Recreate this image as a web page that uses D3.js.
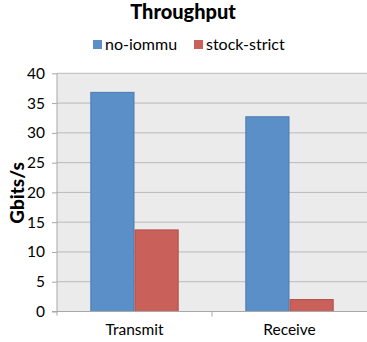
<!DOCTYPE html>
<html>
<head>
<meta charset="utf-8">
<script src="https://cdn.jsdelivr.net/npm/d3@7"></script>
<style>
  html, body { margin: 0; padding: 0; background: #fff; }
  svg { display: block; font-family: Lato, "Open Sans", sans-serif; }
</style>
</head>
<body>
<svg id="chart" width="367" height="342"></svg>
<script>
// Throughput per direction, in Gbits/s
const categories = ["Transmit", "Receive"];
const seriesNames = ["no-iommu", "stock-strict"];
const noIommu = [36.8, 32.7];
const stockStrict = [13.7, 2.0];
const yTicks = [0, 5, 10, 15, 20, 25, 30, 35, 40];

const colors = ["#5b8fc7", "#c9605a"];
const strokes = ["#4a7bb0", "#b04e49"];
const values = [noIommu, stockStrict];

const svg = d3.select("#chart");
const plot = { left: 57, right: 367, top: 73.3, bottom: 311.5 };

const x0 = d3.scaleBand().domain(categories)
  .range([plot.left, plot.right]).paddingInner(0.43).paddingOuter(0.215);
const x1 = d3.scaleBand().domain(seriesNames).range([0, x0.bandwidth()]);
const y = d3.scaleLinear().domain([0, 40]).range([plot.bottom, plot.top]);

// plot background
svg.append("rect")
  .attr("x", plot.left).attr("y", plot.top)
  .attr("width", plot.right - plot.left).attr("height", plot.bottom - plot.top)
  .attr("fill", "#ebebeb");

// horizontal gridlines
svg.append("g").selectAll("line").data(yTicks.filter(d => d > 0)).join("line")
  .attr("x1", plot.left).attr("x2", plot.right)
  .attr("y1", d => y(d)).attr("y2", d => y(d))
  .attr("stroke", "#b9b9b9").attr("stroke-width", 1);

// bars
const groups = svg.append("g").selectAll("g").data(categories).join("g")
  .attr("transform", d => `translate(${x0(d)},0)`);
groups.selectAll("rect")
  .data((c, i) => seriesNames.map((s, j) => ({ s, j, v: values[j][i] })))
  .join("rect")
  .attr("x", d => x1(d.s) + 0.5)
  .attr("width", x1.bandwidth() - 1)
  .attr("y", d => y(d.v))
  .attr("height", d => y(0) - y(d.v))
  .attr("fill", d => colors[d.j])
  .attr("stroke", d => strokes[d.j]).attr("stroke-width", 1);

// y axis
const yAxis = svg.append("g").attr("transform", `translate(${plot.left},0)`)
  .call(d3.axisLeft(y).tickValues(yTicks).tickSize(5).tickPadding(7));
yAxis.select(".domain").attr("stroke", "#a8a8a8").attr("d", `M0,${plot.top}V${plot.bottom + 4}`);
yAxis.selectAll(".tick line").attr("stroke", "#a8a8a8");
yAxis.selectAll("text").attr("font-size", 15.5).attr("fill", "#000")
  .attr("font-family", "Lato, sans-serif");

// x axis
const xAxis = svg.append("g").attr("transform", `translate(0,${plot.bottom})`)
  .call(d3.axisBottom(x0).tickSize(0).tickPadding(12));
xAxis.select(".domain").attr("stroke", "#a8a8a8").attr("d", `M${plot.left - 5},0H${plot.right}`);
xAxis.selectAll("text").attr("font-size", 15.5).attr("fill", "#000")
  .attr("font-family", "Lato, sans-serif");
// divider tick between the two categories
const mid = (x0(categories[0]) + x0.bandwidth() + x0(categories[1])) / 2;
svg.append("line").attr("x1", mid).attr("x2", mid)
  .attr("y1", plot.bottom).attr("y2", plot.bottom + 5).attr("stroke", "#a8a8a8");

// title
svg.append("text").attr("x", 183).attr("y", 19).attr("text-anchor", "middle")
  .attr("font-size", 20).attr("font-weight", 900).text("Throughput");

// y axis label
svg.append("text").attr("transform", `translate(24,193) rotate(-90)`)
  .attr("text-anchor", "middle").attr("font-size", 19).attr("font-weight", 900)
  .text("Gbits/s");

// legend
const legendX = [93, 194];
const legend = svg.append("g").selectAll("g").data(seriesNames).join("g")
  .attr("transform", (d, i) => `translate(${legendX[i]},40)`);
legend.append("rect").attr("width", 9).attr("height", 9).attr("y", 0)
  .attr("fill", (d, i) => colors[i]);
legend.append("text").attr("x", 12).attr("y", 10).attr("font-size", 16)
  .text(d => d);
</script>
</body>
</html>
